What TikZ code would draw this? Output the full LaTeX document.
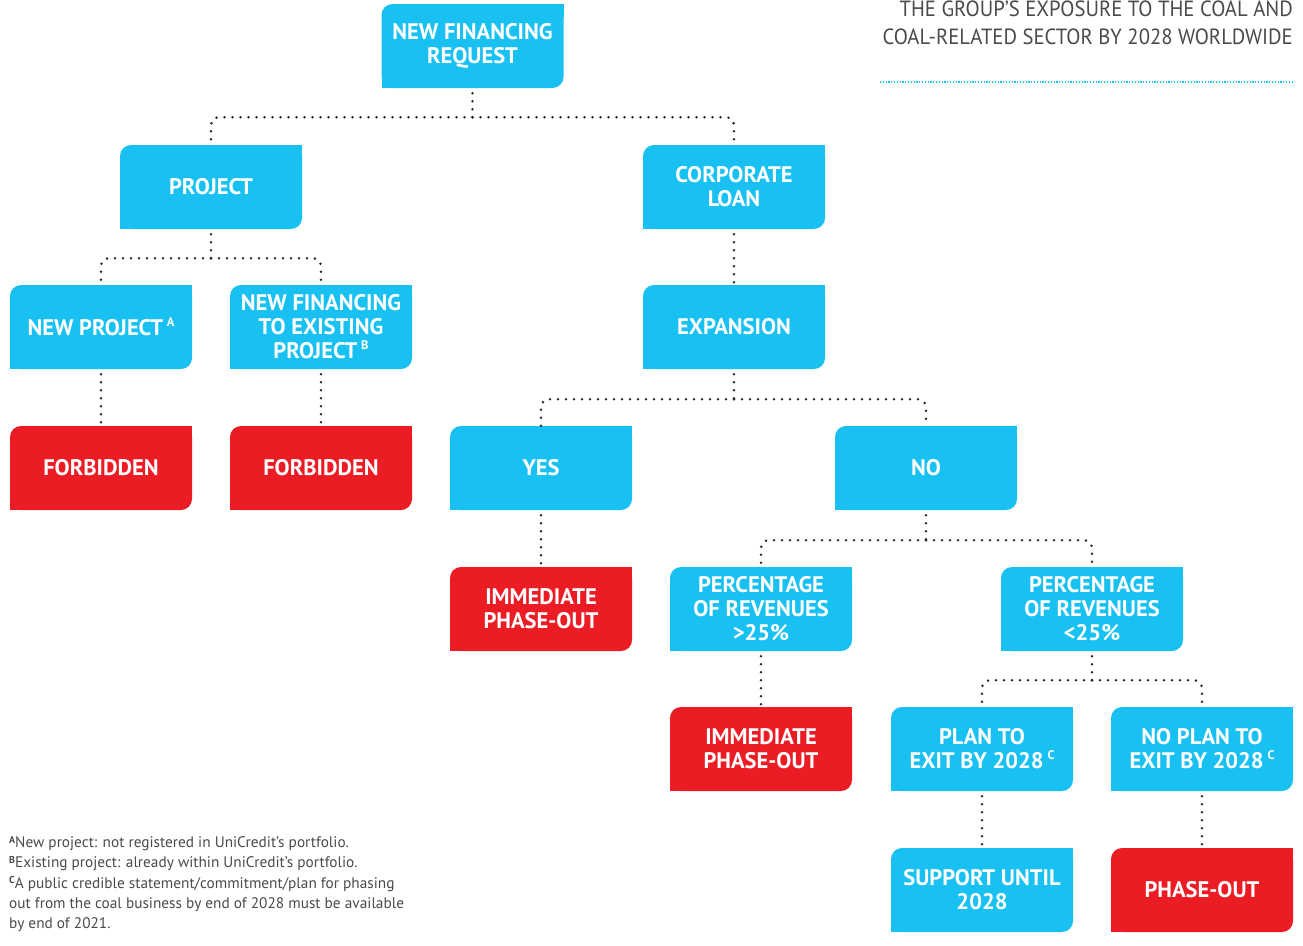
\documentclass[tikz,border=0pt]{standalone}
\usepackage{fontspec}
\setmainfont{PT Sans}
\usetikzlibrary{calc}
\definecolor{ucblue}{HTML}{18C1F1}
\definecolor{ucred}{HTML}{EC1C24}
\definecolor{dotc}{HTML}{2A2A2A}
\definecolor{titlegray}{HTML}{4A4A4A}
\newcommand\sups[1]{\,\raisebox{0.42em}{\fontsize{12.5}{12.5}\selectfont #1}}
\newcommand\fnm[1]{\raisebox{0.28em}{\fontsize{10}{10}\selectfont\bfseries #1}}
\newcommand\bx[5]{%
  \fill[#4, rounded corners=11pt] ({#2-91},{#3-42}) rectangle ({#2+91},{#3+42});
  \fill[#4] ({#2+78},{#3-42}) rectangle ({#2+91},{#3-29});
  \fill[#4] ({#2-91},{#3+29}) rectangle ({#2-78},{#3+42});
  \node[boxtext] (#1) at (#2,#3) {#5};%
}
\begin{document}
\begin{tikzpicture}[x=1pt,y=-1pt,
  boxtext/.style={minimum width=182pt,minimum height=84pt,inner sep=0pt,align=center,text=white,font=\fontsize{22.5}{24}\selectfont\bfseries},
  dotline/.style={draw=dotc,line width=2.8pt,line cap=round,dash pattern=on 0pt off 8pt,dash phase=3pt},
  branch/.style={draw=dotc,line width=2.8pt,line cap=round,dash pattern=on 0pt off 8pt,rounded corners=8pt},
  title/.style={inner sep=0pt,text=titlegray,font=\fontsize{22}{26}\selectfont}]
\useasboundingbox (0,0) rectangle (1303,945);

\bx{nfr}{472.5}{46}{ucblue}{NEW FINANCING\\REQUEST}
\bx{proj}{211}{187}{ucblue}{PROJECT}
\bx{corp}{734}{187}{ucblue}{CORPORATE\\LOAN}
\bx{newp}{101}{327}{ucblue}{NEW PROJECT\sups{A}}
\bx{exist}{321}{327}{ucblue}{NEW FINANCING\\TO EXISTING\\PROJECT\sups{B}}
\bx{exp}{734}{327}{ucblue}{EXPANSION}
\bx{forb1}{101}{468}{ucred}{FORBIDDEN}
\bx{forb2}{321}{468}{ucred}{FORBIDDEN}
\bx{yes}{541}{468}{ucblue}{YES}
\bx{no}{926}{468}{ucblue}{NO}
\bx{imm1}{541}{609}{ucred}{IMMEDIATE\\PHASE-OUT}
\bx{gt}{761}{609}{ucblue}{PERCENTAGE\\OF REVENUES\\>25\%}
\bx{lt}{1092}{609}{ucblue}{PERCENTAGE\\OF REVENUES\\<25\%}
\bx{imm2}{761}{749}{ucred}{IMMEDIATE\\PHASE-OUT}
\bx{plan}{982}{749}{ucblue}{PLAN TO\\EXIT BY 2028\sups{C}}
\bx{noplan}{1202}{749}{ucblue}{NO PLAN TO\\EXIT BY 2028\sups{C}}
\bx{supp}{982}{890}{ucblue}{SUPPORT UNTIL\\2028}
\bx{phase}{1202}{890}{ucred}{PHASE-OUT}

% branching connectors
\coordinate (j1) at ($(nfr.south)+(0,29)$);
\draw[dotline] (nfr.south) -- (j1);
\draw[branch] (j1) -| (proj.north);
\draw[branch] (j1) -| (corp.north);

\coordinate (j2) at ($(proj.south)+(0,29)$);
\draw[dotline] (proj.south) -- (j2);
\draw[branch] (j2) -| (newp.north);
\draw[branch] (j2) -| (exist.north);

\coordinate (j3) at ($(exp.south)+(0,30)$);
\draw[dotline] (exp.south) -- (j3);
\draw[branch] (j3) -| (yes.north);
\draw[branch] (j3) -| (no.north);

\coordinate (j4) at ($(no.south)+(0,30)$);
\draw[dotline] (no.south) -- (j4);
\draw[branch] (j4) -| (gt.north);
\draw[branch] (j4) -| (lt.north);

\coordinate (j5) at ($(lt.south)+(0,29)$);
\draw[dotline] (lt.south) -- (j5);
\draw[branch] (j5) -| (plan.north);
\draw[branch] (j5) -| (noplan.north);

% straight connectors
\draw[dotline] (corp.south) -- (exp.north);
\draw[dotline] (newp.south) -- (forb1.north);
\draw[dotline] (exist.south) -- (forb2.north);
\draw[dotline] (yes.south) -- (imm1.north);
\draw[dotline] (gt.south) -- (imm2.north);
\draw[dotline] (plan.south) -- (supp.north);
\draw[dotline] (noplan.south) -- (phase.north);

% title
\node[title, anchor=base east] (t1) at (1293,16) {\scalebox{0.94}[1]{THE GROUP’S EXPOSURE TO THE COAL AND}};
\node[title, anchor=base east] (t2) at (1293,44) {\scalebox{0.94}[1]{COAL-RELATED SECTOR BY 2028 WORLDWIDE}};
\draw[ucblue, line width=2pt, dash pattern=on 1.2pt off 1.6pt] (880,82) -- (1294,82);

% footnotes
\node[anchor=north west, inner sep=0pt, align=left, text=titlegray, font=\fontsize{15.3}{20.3}\selectfont] (fn) at (9,836)
{\fnm{A}New project: not registered in UniCredit's portfolio.\\
\fnm{B}Existing project: already within UniCredit's portfolio.\\
\fnm{C}A public credible statement/commitment/plan for phasing\\
out from the coal business by end of 2028 must be available\\
by end of 2021.};
\end{tikzpicture}
\end{document}
